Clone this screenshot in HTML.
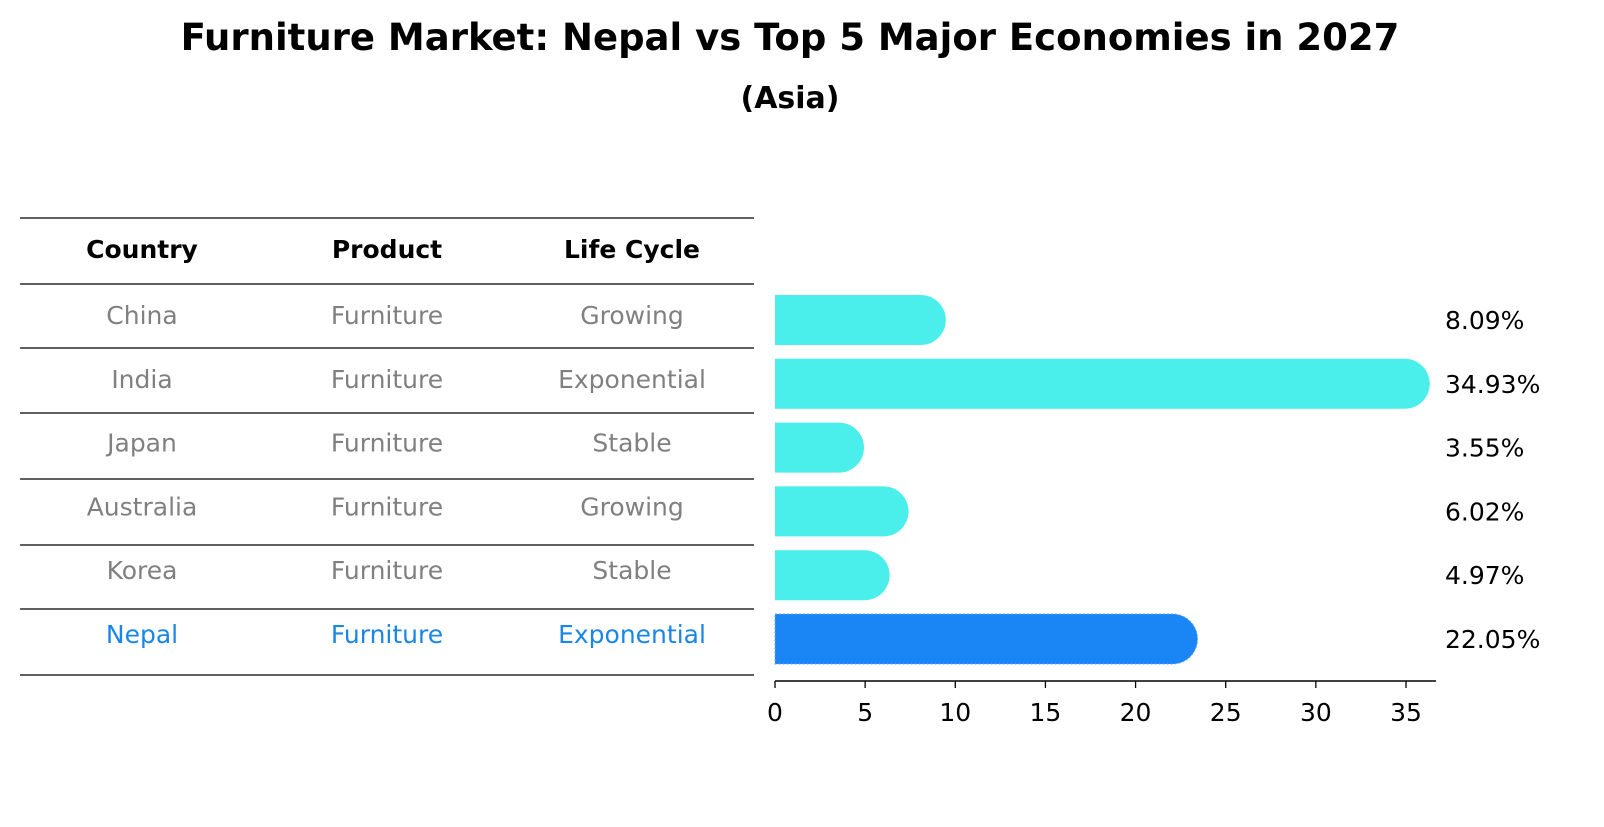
<!DOCTYPE html>
<html><head><meta charset="utf-8"><style>
body{margin:0;background:#fff;font-family:"DejaVu Sans","Liberation Sans",sans-serif;}
svg text{font-family:"DejaVu Sans","Liberation Sans",sans-serif;}
</style></head><body>
<svg id="chart" width="1604" height="823" xmlns="http://www.w3.org/2000/svg">
<text x="790" y="50" text-anchor="middle" font-size="37" font-weight="bold">Furniture Market: Nepal vs Top 5 Major Economies in 2027</text>
<text x="790" y="108" text-anchor="middle" font-size="30" font-weight="bold">(Asia)</text>
<g id="table"></g>
<g id="bars"></g>
</svg>
<script>
const countries=["China","India","Japan","Australia","Korea","Nepal"];
const products=["Furniture","Furniture","Furniture","Furniture","Furniture","Furniture"];
const lifeCycles=["Growing","Exponential","Stable","Growing","Stable","Exponential"];
const values=[8.09,34.93,3.55,6.02,4.97,22.05];
const ticks=[0,5,10,15,20,25,30,35];
const NS="http://www.w3.org/2000/svg";
function mk(tag,attrs,parent){const e=document.createElementNS(NS,tag);for(const k in attrs)e.setAttribute(k,attrs[k]);parent.appendChild(e);return e;}
const x0=775,xs=(631/35);
function X(v){return x0+v*xs;}
const rowY0=318,rowStep=63.8;
function Y(i){return rowY0+i*rowStep;}
const tbl=document.getElementById('table');
const lineYs=[218,284,348,413,479,545,609,675];
lineYs.forEach((y,i)=>{const l=mk('line',{x1:20,x2:754,y1:y,y2:y,stroke:'#000','stroke-width':1.2},tbl);

});
const colX=[142,387,632];
["Country","Product","Life Cycle"].forEach((h,j)=>{const t=mk('text',{x:colX[j],y:258,'text-anchor':'middle','font-size':25,'font-weight':'bold'},tbl);t.textContent=h;

});
countries.forEach((c,i)=>{const last=i===countries.length-1;const col=last?'#1a86e6':'#808080';
[c,products[i],lifeCycles[i]].forEach((v,j)=>{const t=mk('text',{x:colX[j],y:Y(i)+6,'text-anchor':'middle','font-size':25,fill:col},tbl);t.textContent=v;

});});
const bars=document.getElementById('bars');
const bh=50,r=25;
values.forEach((v,i)=>{const last=i===values.length-1;const col=last?'#1a86f5':'#4aeeea';
const yc=Y(i)+2;const xe=X(v);
const p=mk('path',{d:`M${x0},${yc-bh/2} H${xe} A${r},${r} 0 0 1 ${xe},${yc+bh/2} H${x0} Z`,fill:col},bars);
if(last){p.setAttribute('stroke','#5aa8f5');p.setAttribute('stroke-dasharray','2,2');p.setAttribute('stroke-width','1');}


const t=mk('text',{x:1445,y:Y(i)+11,'font-size':25},bars);t.textContent=v.toFixed(2)+'%';

});
const ax=mk('line',{x1:x0,x2:1436,y1:681,y2:681,stroke:'#000','stroke-width':1.5},bars);


ticks.forEach(tv=>{const l=mk('line',{x1:X(tv),x2:X(tv),y1:681,y2:688,stroke:'#000','stroke-width':1.3},bars);


const t=mk('text',{x:X(tv),y:721,'text-anchor':'middle','font-size':25},bars);t.textContent=tv;

});
</script>
</body></html>
